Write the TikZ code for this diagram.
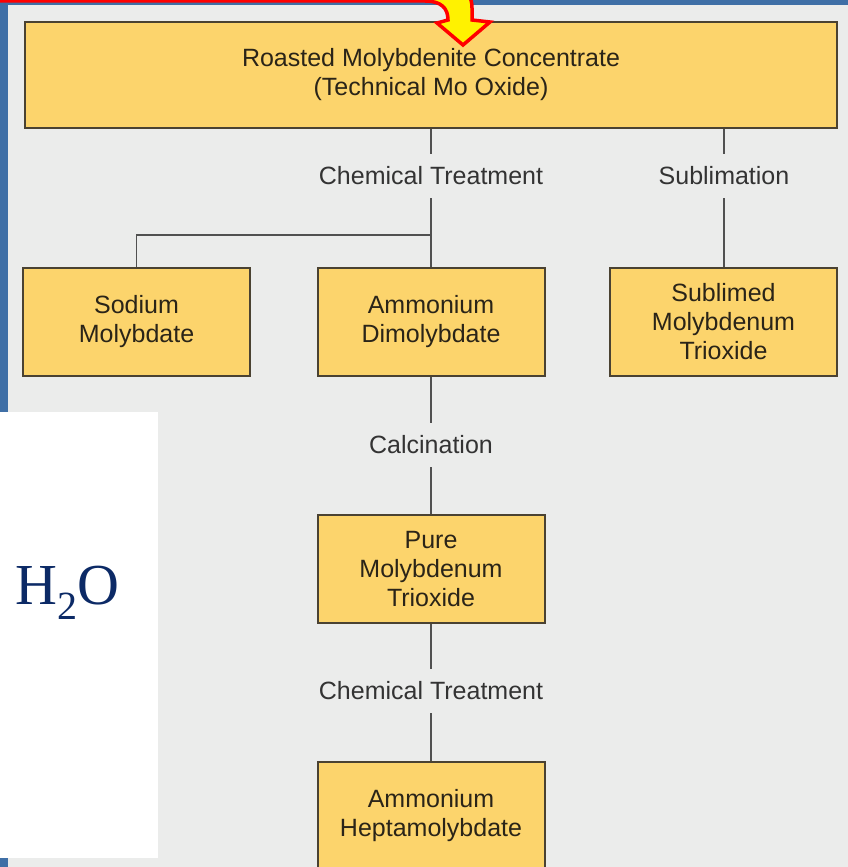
\documentclass[tikz,border=0pt]{standalone}
\usepackage{fontspec}
\setmainfont{Liberation Sans}
\newfontfamily\waterfont{Liberation Serif}
\usetikzlibrary{calc,positioning}
\definecolor{slideblue}{HTML}{3F6FA6}
\definecolor{panelgray}{HTML}{EBECEB}
\definecolor{boxfill}{HTML}{FCD46C}
\definecolor{boxline}{HTML}{4A4232}
\definecolor{boxtext}{HTML}{2A2418}
\definecolor{linkgray}{HTML}{505050}
\definecolor{labgray}{HTML}{333333}
\definecolor{waterblue}{HTML}{0C2A66}
\newcommand{\flowsize}{\fontsize{25}{29}\selectfont}

\begin{document}
\begin{tikzpicture}[x=1pt,y=-1pt,
    procbox/.style={draw=boxline, line width=2pt, fill=boxfill, text=boxtext,
      minimum width=227pt, minimum height=108pt, align=center, inner sep=0pt,
      font=\flowsize},
    steplab/.style={text=labgray, font=\flowsize, inner sep=0pt,
      minimum height=44pt},
    link/.style={draw=linkgray, line width=1.8pt}]
  \useasboundingbox (0,0) rectangle (848,867);
  \clip (0,0) rectangle (848,867);
  % slide background
  \fill[slideblue] (0,0) rectangle (848,867);
  \fill[panelgray] (8,5) rectangle (848,867);
  \fill[white] (0,412) rectangle (158,858);

  % boxes
  \node[procbox, minimum width=812pt, minimum height=106pt] (roasted) at (431,75)
    {Roasted Molybdenite Concentrate\\(Technical Mo Oxide)};
  \node[procbox] (sodium) at (136.5,322) {Sodium\\Molybdate};
  \node[procbox] (dimolyb) at (431,322) {Ammonium\\Dimolybdate};
  \node[procbox] (sublimed) at (723.5,322) {Sublimed\\Molybdenum\\Trioxide};
  \node[procbox] (puretri) at (431,569) {Pure\\Molybdenum\\Trioxide};
  \node[procbox] (hepta) at (431,816) {Ammonium\\Heptamolybdate};

  % step labels
  \node[steplab] (chemA) at (431,176) {Chemical Treatment};
  \node[steplab] (sublim) at (724,176) {Sublimation};
  \node[steplab] (calcin) at (431,445) {Calcination};
  \node[steplab] (chemB) at (431,691) {Chemical Treatment};

  % links
  \coordinate (branch) at (431,235);
  \path[link] (roasted.south -| chemA) -- (chemA) -- (dimolyb.north);
  \path[link] (branch) -| (sodium.north);
  \path[link] (roasted.south -| sublim) -- (sublim) -- (sublimed.north -| sublim);
  \path[link] (dimolyb) -- (calcin) -- (puretri);
  \path[link] (puretri) -- (chemB) -- (hepta);

  % water
  \node[text=waterblue, font=\waterfont\fontsize{58}{60}\selectfont, inner sep=0pt]
    (water) at (67,593) {H\raisebox{-0.25em}{\fontsize{40}{40}\selectfont 2}O};

  % pointer arrow from the slide
  \filldraw[fill=yellow, draw=red, line width=3.5pt, line join=miter]
    (-10,1) -- (425,1) .. controls (441,1) and (448,8) .. (448,20)
    -- (437,23) -- (463,45) -- (490,22) -- (472,20) -- (472,8)
    .. controls (472,-12) and (455,-22) .. (425,-22) -- (-10,-22) -- cycle;
\end{tikzpicture}
\end{document}
